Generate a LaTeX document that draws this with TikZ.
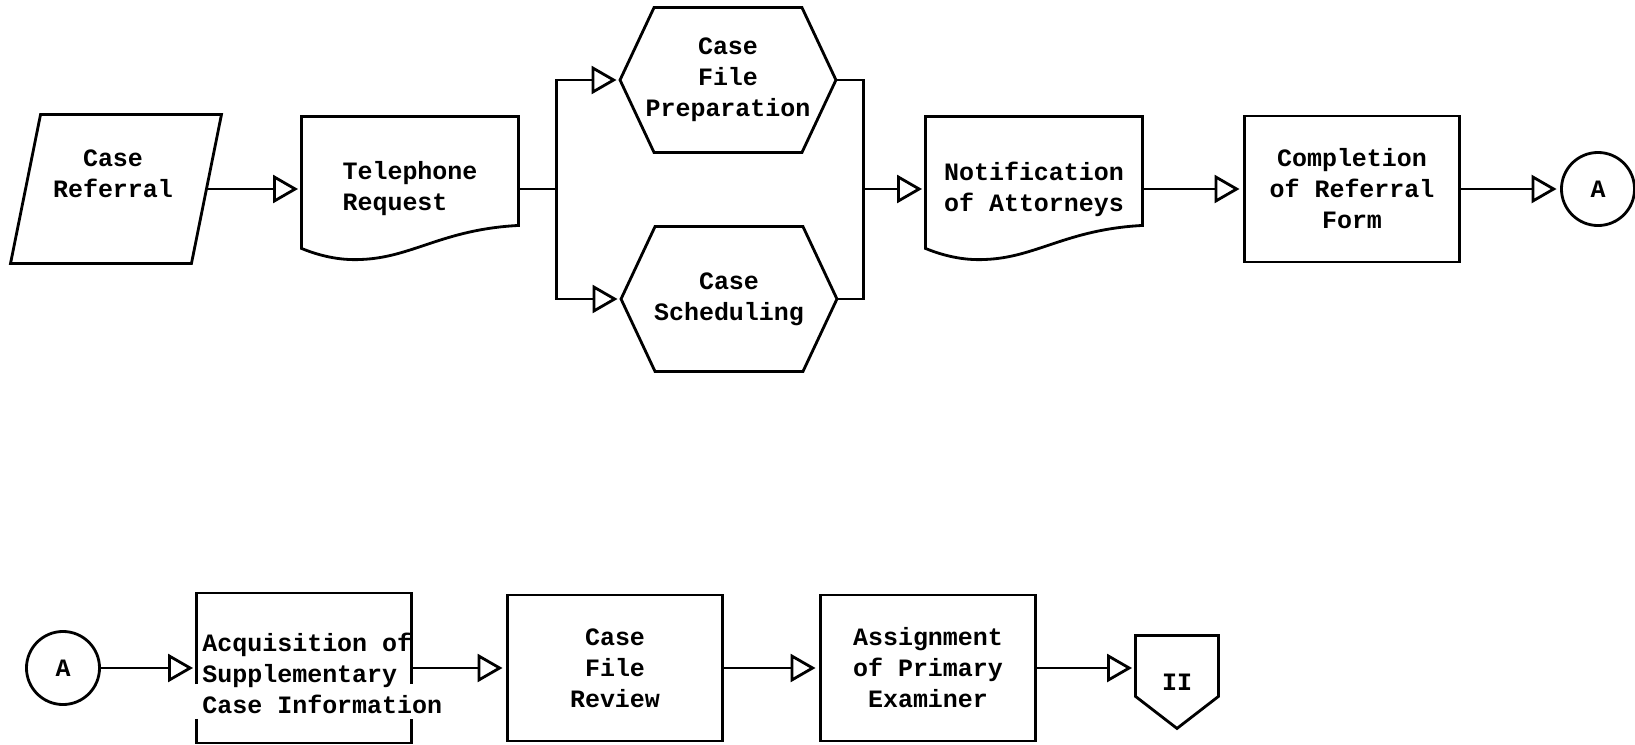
\documentclass[tikz,border=0pt]{standalone}
\usepackage{fontspec}
\setmonofont{Liberation Mono}
\usetikzlibrary{shapes, arrows.meta, positioning, calc}

\begin{document}
\begin{tikzpicture}[x=0.01cm, y=-0.01cm, line width=0.8pt,
	font=\ttfamily\bfseries\fontsize{7.1}{8.8}\selectfont,
	every node/.style={inner sep=0pt, align=center},
	box/.style={draw, minimum width=2.15cm, minimum height=1.46cm},
	openbox/.style={minimum width=2.12cm, minimum height=1.47cm},
	docbox/.style={minimum width=2.14cm, minimum height=1.42cm, align=left},
	hexbox/.style={minimum width=2.13cm, minimum height=1.42cm},
	parabox/.style={minimum width=2.08cm, minimum height=1.46cm},
	conn/.style={draw, circle, minimum size=0.73cm},
	flow/.style={-{Triangle[open, length=0.25cm, width=0.28cm]}, shorten >=1pt}]
	\useasboundingbox (0,0) rectangle (1635,745);

	% first row
	\node[parabox] (ref) at (116,189) {};
		\node (reftxt) at (113,174) {Case\\Referral};
	\node[docbox] (tel) at (410,189) {Telephone\\Request};
	\node[hexbox] (prep) at (728,80) {Case\\File\\Preparation};
	\node[hexbox] (sched) at (729,299) {Case\\Scheduling};
	\node[docbox] (notif) at (1034,189) {Notification\\of Attorneys};
	\node[box] (comp) at (1352,189) {Completion\\of Referral\\Form};
	\node[conn] (a1) at (1598,189) {A};

	% second row
	\node[conn] (a2) at (63,668) {A};
	\node[openbox] (acq) at (304,668) {};
		\node[anchor=west, align=left] (acqtxt) at (201,673) {Acquisition of\\Supplementary\\Case Information};
	\node[box] (review) at (615,668) {Case\\File\\Review};
	\node[box] (assign) at (928,668) {Assignment\\of Primary\\Examiner};
	\node[minimum width=0.8cm, minimum height=0.9cm] (pg) at (1177,682) {II};

	% outlines
	\draw ($(ref.north west)+(30,0)$) -- (ref.north east) -- ($(ref.south east)+(-30,0)$) -- (ref.south west) -- cycle;
	\foreach \d in {tel,notif}
		\draw (\d.north west) -- (\d.north east) -- ($(\d.south east)+(0,-36)$)
			.. controls ($(\d.south east)+(-76,-32)$) and ($(\d.south east)+(-106,-4)$) .. ($(\d.south west)+(60,-2)$)
			.. controls ($(\d.south west)+(42,-1)$) and ($(\d.south west)+(22,-4)$) .. ($(\d.south west)+(0,-13)$) -- cycle;
	\foreach \h in {prep,sched}
		\draw (\h.west) -- ($(\h.north west)+(34,0)$) -- ($(\h.north east)+(-34,0)$) -- (\h.east)
			-- ($(\h.south east)+(-34,0)$) -- ($(\h.south west)+(34,0)$) -- cycle;
	\draw ($(acq.north west)+(0,91)$) -- (acq.north west) -- (acq.north east) -- ($(acq.north east)+(0,91)$);
	\draw ($(acq.south west)+(0,-24)$) -- (acq.south west) -- (acq.south east) -- ($(acq.south east)+(0,-24)$);
	\draw (pg.north west) -- (pg.north east) -- ($(pg.south east)+(0,-32)$) -- (pg.south) -- ($(pg.south west)+(0,-32)$) -- cycle;

	% connectors
	\coordinate (refout) at ($(ref.east)+(-15,0)$);
	\coordinate (split) at ($(tel.east)+(38,0)$);
	\coordinate (merge) at ($(notif.west)+(-62,0)$);
	\draw[flow] (refout) -- (refout -| tel.west);
	\draw (tel.east) -- (split);
	\draw[flow] (split) |- (prep.west);
	\draw[flow] (split) |- (sched.west);
	\draw (prep.east) -| (merge);
	\draw (sched.east) -| (merge);
	\draw[flow] (merge) -- (notif.west);
	\draw[flow] (notif.east) -- (comp.west);
	\draw[flow] (comp.east) -- (a1.west);
	\draw[flow] (a2.east) -- (acq.west);
	\draw[flow] (acq.east) -- (review.west);
	\draw[flow] (review.east) -- (assign.west);
	\draw[flow] (assign.east) -- (assign.east -| pg.west);
\end{tikzpicture}
\end{document}
